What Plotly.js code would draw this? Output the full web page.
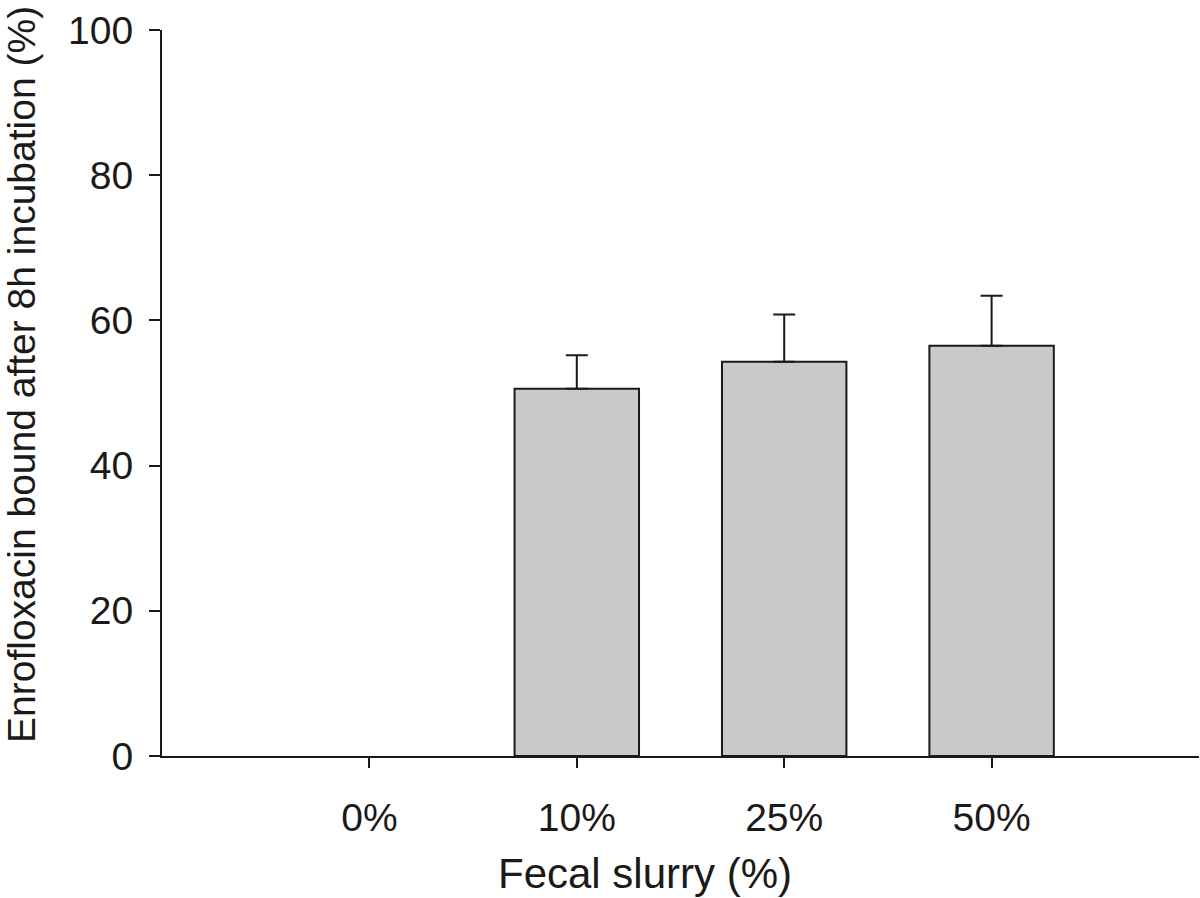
<!DOCTYPE html>
<html>
<head>
<meta charset="utf-8">
<script src="https://cdn.plot.ly/plotly-3.0.1.min.js"></script>
<style>html,body{margin:0;padding:0;background:#fff;}#chart{width:1200px;height:898px;}</style>
</head>
<body>
<div id="chart"></div>
<script>
const categories = ["0%", "10%", "25%", "50%"];
const boundPct = [0, 50.6, 54.3, 56.5];
const errorPlus = [0, 4.6, 6.5, 6.9];
const yTickVals = [0, 20, 40, 60, 80, 100];
const xTitle = 'Fecal slurry (%)';
const yTitle = 'Enrofloxacin bound after 8h incubation (%)';

// bars with zero value draw no outline and no error bar (as in the reference)
const hasBar = boundPct.map(v => v > 0);

const trace = {
  type: 'bar',
  x: [0, 1, 2, 3],
  y: boundPct,
  width: 0.6,
  marker: {color: '#c8c9cb', line: {color: '#1a1a1a', width: hasBar.map(b => b ? 2 : 0)}},
  error_y: {type: 'data', symmetric: false,
            array: errorPlus.map((v, i) => hasBar[i] ? v : NaN),
            arrayminus: errorPlus.map((v, i) => hasBar[i] ? 0 : NaN),
            color: '#1a1a1a', thickness: 2, width: 11},
  hoverinfo: 'none'
};

const layout = {
  width: 1200, height: 898,
  margin: {l: 162, r: 1, t: 30, b: 142},
  paper_bgcolor: '#ffffff', plot_bgcolor: '#ffffff',
  font: {family: 'Liberation Sans, Arial, sans-serif', color: '#1a1a1a', size: 39},
  showlegend: false,
  xaxis: {
    range: [-1, 4], tickvals: [0, 1, 2, 3], ticktext: categories,
    showgrid: false, zeroline: false, showline: true, linecolor: '#1a1a1a', linewidth: 2,
    ticks: 'outside', ticklen: 10, tickwidth: 2, tickcolor: '#1a1a1a',
    tickfont: {size: 39}, ticklabelstandoff: 16
  },
  yaxis: {
    range: [0, 100], tickvals: yTickVals,
    showgrid: false, zeroline: false, showline: true, linecolor: '#1a1a1a', linewidth: 2,
    ticks: 'outside', ticklen: 11, tickwidth: 2, tickcolor: '#1a1a1a',
    tickfont: {size: 39}, ticklabelstandoff: 8
  },
  annotations: [
    {text: xTitle, xref: 'paper', yref: 'paper', x: 0.4658, y: -0.1625,
     xanchor: 'center', yanchor: 'middle', showarrow: false, font: {size: 42}},
    {text: yTitle, xref: 'paper', yref: 'paper', x: -0.135, y: 0.5248, textangle: -90,
     xanchor: 'center', yanchor: 'middle', showarrow: false, font: {size: 39}}
  ]
};

Plotly.newPlot('chart', [trace], layout, {displayModeBar: false, staticPlot: true});
</script>
</body>
</html>
